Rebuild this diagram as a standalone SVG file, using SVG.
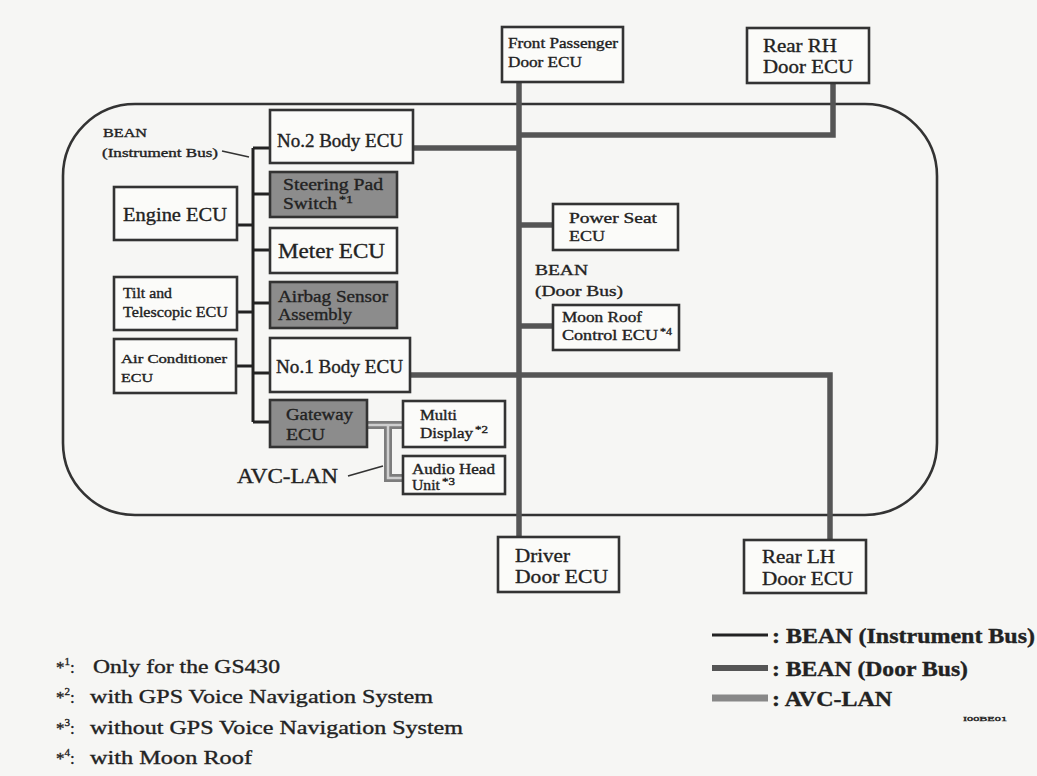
<svg xmlns="http://www.w3.org/2000/svg" width="1037" height="776" viewBox="0 0 1037 776">
<style>
text{font-family:"Liberation Serif","Times New Roman",serif;fill:#222;stroke:#222;stroke-width:0.35}
.box{fill:#fbfbf9;stroke:#333;stroke-width:2.6}
.gbox{fill:#8c8c8c;stroke:#333;stroke-width:2.6}
.inst{stroke:#222;stroke-width:3;fill:none}
.door{stroke:#555;stroke-width:5.5;fill:none}
.avc{stroke:#7d7d7d;stroke-width:8;fill:none}
.avcin{stroke:#cfcfcf;stroke-width:2.5;fill:none}
.ptr{stroke:#333;stroke-width:1.6;fill:none}
.leg{font-weight:bold}
</style>
<rect x="0" y="0" width="1037" height="776" fill="#f6f6f4"/>
<rect id="vehicle-outline" x="63" y="104" width="874" height="411" rx="72" ry="72" fill="none" stroke="#333" stroke-width="2.6"/>

<g id="connectors">
  <path class="inst" d="M253 148 V422 M253 148 H270 M253 194 H270 M237 225 H253 M253 250 H270 M237 312 H253 M253 303 H270 M236 366 H253 M253 373 H270 M253 422 H270"/>
  <path class="door" d="M519 82 V537 M413 148 H519 M519 135 H833 V83 M519 225 H553 M519 326 H553 M410 375 H830 V540"/>
  <path class="avc" d="M367 425 H403 M388 425 V478 H403"/>
  <path class="avcin" d="M367 425 H403 M388 425 V478 H403"/>
  <path class="ptr" d="M222 151 L249 157"/>
  <path class="ptr" d="M348 476 L383 466"/>
</g>

<g id="front-passenger-door-ecu">
  <rect class="box" x="502" y="27" width="121" height="55"/>
  <text x="508" y="48" font-size="14" textLength="110" lengthAdjust="spacingAndGlyphs">Front Passenger</text>
  <text x="508" y="67" font-size="14" textLength="74" lengthAdjust="spacingAndGlyphs">Door ECU</text>
</g>
<g id="rear-rh-door-ecu">
  <rect class="box" x="747" y="28" width="122" height="55"/>
  <text x="763" y="52" font-size="19" textLength="74" lengthAdjust="spacingAndGlyphs">Rear RH</text>
  <text x="763" y="73" font-size="19" textLength="90" lengthAdjust="spacingAndGlyphs">Door ECU</text>
</g>
<g id="no2-body-ecu">
  <rect class="box" x="270" y="110" width="143" height="53"/>
  <text x="277" y="147" font-size="18" textLength="126" lengthAdjust="spacingAndGlyphs">No.2 Body ECU</text>
</g>
<g id="steering-pad-switch">
  <rect class="gbox" x="270" y="172" width="127" height="45"/>
  <text x="283" y="190" font-size="17" textLength="100" lengthAdjust="spacingAndGlyphs">Steering Pad</text>
  <text x="283" y="209" font-size="17" textLength="54" lengthAdjust="spacingAndGlyphs">Switch</text>
  <text x="339" y="203" font-size="11" textLength="14" lengthAdjust="spacingAndGlyphs">*1</text>
</g>
<g id="engine-ecu">
  <rect class="box" x="114" y="187" width="123" height="53"/>
  <text x="123" y="221" font-size="19" textLength="104" lengthAdjust="spacingAndGlyphs">Engine ECU</text>
</g>
<g id="meter-ecu">
  <rect class="box" x="270" y="228" width="127" height="45"/>
  <text x="278" y="258" font-size="21" textLength="107" lengthAdjust="spacingAndGlyphs">Meter ECU</text>
</g>
<g id="tilt-telescopic-ecu">
  <rect class="box" x="114" y="277" width="123" height="53"/>
  <text x="123" y="298" font-size="14" textLength="49" lengthAdjust="spacingAndGlyphs">Tilt and</text>
  <text x="123" y="317" font-size="14" textLength="105" lengthAdjust="spacingAndGlyphs">Telescopic ECU</text>
</g>
<g id="airbag-sensor-assembly">
  <rect class="gbox" x="270" y="282" width="127" height="46"/>
  <text x="278" y="302" font-size="17" textLength="110" lengthAdjust="spacingAndGlyphs">Airbag Sensor</text>
  <text x="278" y="320" font-size="17" textLength="74" lengthAdjust="spacingAndGlyphs">Assembly</text>
</g>
<g id="air-conditioner-ecu">
  <rect class="box" x="114" y="339" width="122" height="54"/>
  <text x="121" y="363" font-size="13" textLength="106" lengthAdjust="spacingAndGlyphs">Air Conditioner</text>
  <text x="121" y="382" font-size="13" textLength="32" lengthAdjust="spacingAndGlyphs">ECU</text>
</g>
<g id="no1-body-ecu">
  <rect class="box" x="270" y="338" width="140" height="54"/>
  <text x="276" y="373" font-size="18" textLength="127" lengthAdjust="spacingAndGlyphs">No.1 Body ECU</text>
</g>
<g id="gateway-ecu">
  <rect class="gbox" x="270" y="400" width="97" height="47"/>
  <text x="286" y="420" font-size="16" textLength="67" lengthAdjust="spacingAndGlyphs">Gateway</text>
  <text x="286" y="440" font-size="16" textLength="39" lengthAdjust="spacingAndGlyphs">ECU</text>
</g>
<g id="multi-display">
  <rect class="box" x="403" y="401" width="102" height="46"/>
  <text x="420" y="420" font-size="14" textLength="37" lengthAdjust="spacingAndGlyphs">Multi</text>
  <text x="420" y="438" font-size="14" textLength="53" lengthAdjust="spacingAndGlyphs">Display</text>
  <text x="475" y="433" font-size="10" textLength="13" lengthAdjust="spacingAndGlyphs">*2</text>
</g>
<g id="audio-head-unit">
  <rect class="box" x="403" y="456" width="102" height="38"/>
  <text x="412" y="474" font-size="14" textLength="83" lengthAdjust="spacingAndGlyphs">Audio Head</text>
  <text x="412" y="490" font-size="14" textLength="28" lengthAdjust="spacingAndGlyphs">Unit</text>
  <text x="442" y="485" font-size="10" textLength="13" lengthAdjust="spacingAndGlyphs">*3</text>
</g>
<g id="power-seat-ecu">
  <rect class="box" x="553" y="204" width="125" height="46"/>
  <text x="569" y="223" font-size="15" textLength="88" lengthAdjust="spacingAndGlyphs">Power Seat</text>
  <text x="569" y="241" font-size="15" textLength="36" lengthAdjust="spacingAndGlyphs">ECU</text>
</g>
<g id="moon-roof-control-ecu">
  <rect class="box" x="553" y="305" width="126" height="45"/>
  <text x="562" y="322" font-size="14" textLength="80" lengthAdjust="spacingAndGlyphs">Moon Roof</text>
  <text x="562" y="340" font-size="14" textLength="96" lengthAdjust="spacingAndGlyphs">Control ECU</text>
  <text x="660" y="335" font-size="10" textLength="12" lengthAdjust="spacingAndGlyphs">*4</text>
</g>
<g id="driver-door-ecu">
  <rect class="box" x="498" y="537" width="121" height="55"/>
  <text x="515" y="562" font-size="19" textLength="55" lengthAdjust="spacingAndGlyphs">Driver</text>
  <text x="515" y="583" font-size="19" textLength="93" lengthAdjust="spacingAndGlyphs">Door ECU</text>
</g>
<g id="rear-lh-door-ecu">
  <rect class="box" x="744" y="540" width="122" height="53"/>
  <text x="762" y="563" font-size="19" textLength="73" lengthAdjust="spacingAndGlyphs">Rear LH</text>
  <text x="762" y="585" font-size="19" textLength="91" lengthAdjust="spacingAndGlyphs">Door ECU</text>
</g>

<g id="labels">
  <text x="103" y="137" font-size="13" textLength="44" lengthAdjust="spacingAndGlyphs">BEAN</text>
  <text x="102" y="157" font-size="13" textLength="116" lengthAdjust="spacingAndGlyphs">(Instrument Bus)</text>
  <text x="535" y="275" font-size="15" textLength="53" lengthAdjust="spacingAndGlyphs">BEAN</text>
  <text x="535" y="296" font-size="15" textLength="88" lengthAdjust="spacingAndGlyphs">(Door Bus)</text>
  <text x="237" y="483" font-size="22" textLength="101" lengthAdjust="spacingAndGlyphs">AVC-LAN</text>
</g>

<g id="legend">
  <line class="inst" x1="712" y1="635" x2="768" y2="635"/>
  <line x1="712" y1="668" x2="768" y2="668" stroke="#555" stroke-width="6"/>
  <line x1="712" y1="698" x2="768" y2="698" stroke="#888" stroke-width="7"/>
  <text class="leg" x="772" y="643" font-size="20" textLength="263" lengthAdjust="spacingAndGlyphs">: BEAN (Instrument Bus)</text>
  <text class="leg" x="772" y="676" font-size="20" textLength="196" lengthAdjust="spacingAndGlyphs">: BEAN (Door Bus)</text>
  <text class="leg" x="772" y="706" font-size="20" textLength="120" lengthAdjust="spacingAndGlyphs">: AVC-LAN</text>
  <text x="963" y="721" font-size="7" stroke-width="0.2" textLength="44" lengthAdjust="spacingAndGlyphs">I00BE01</text>
</g>

<g id="footnotes">
  <text x="56" y="673" font-size="17">*<tspan dy="-8" font-size="11">1</tspan><tspan dy="8">:</tspan></text>
  <text x="93" y="673" font-size="19" textLength="187" lengthAdjust="spacingAndGlyphs">Only for the GS430</text>
  <text x="56" y="703" font-size="17">*<tspan dy="-8" font-size="11">2</tspan><tspan dy="8">:</tspan></text>
  <text x="90" y="703" font-size="19" textLength="343" lengthAdjust="spacingAndGlyphs">with GPS Voice Navigation System</text>
  <text x="56" y="734" font-size="17">*<tspan dy="-8" font-size="11">3</tspan><tspan dy="8">:</tspan></text>
  <text x="90" y="734" font-size="19" textLength="373" lengthAdjust="spacingAndGlyphs">without GPS Voice Navigation System</text>
  <text x="56" y="764" font-size="17">*<tspan dy="-8" font-size="11">4</tspan><tspan dy="8">:</tspan></text>
  <text x="90" y="764" font-size="19" textLength="162" lengthAdjust="spacingAndGlyphs">with Moon Roof</text>
</g>
</svg>
